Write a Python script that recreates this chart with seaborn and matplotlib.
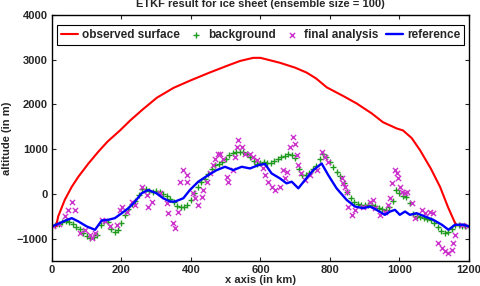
import numpy as np
import pandas as pd
import matplotlib
matplotlib.use('Agg')
import matplotlib.pyplot as plt
import seaborn as sns

# observed surface (red)
obs_x = [12, 18, 37, 57, 76, 105, 133, 160, 196, 225, 260, 302, 350, 397, 450, 503, 541,
         579, 600, 656, 700, 733, 760, 791, 840, 877, 920, 953, 993, 1010, 1035, 1059,
         1090, 1117, 1140, 1160, 1165]
obs_y = [-720, -500, -130, 160, 385, 680, 940, 1170, 1420, 1640, 1880, 2150, 2370, 2530,
         2700, 2860, 2970, 3040, 3040, 2930, 2820, 2710, 2580, 2380, 2180, 2020, 1800, 1600,
         1460, 1420, 1250, 980, 570, 155, -300, -650, -700]

# background (green +), every 10 km
bg_x = list(range(0, 1201, 10))
bg_y = [-725, -700, -670, -630, -610, -620, -680, -740, -790, -880,
        -940, -980, -970, -920, -700, -610, -630, -780, -860, -800,
        -650, -470, -330, -230, -160, -30, 110, 110, 70, 50,
        60, 40, 0, -40, -110, -190, -260, -290, -285, -240,
        -140, 20, 160, 260, 340, 450, 560, 650, 660, 720,
        780, 860, 920, 940, 945, 940, 900, 830, 730, 670,
        690, 710, 700, 690, 730, 790, 820, 850, 900, 880,
        800, 560, 420, 430, 460, 550, 620, 780, 900, 820,
        720, 610, 500, 410, 240, 50, -100, -180, -220, -240,
        -245, -245, -245, -280, -310, -330, -350, -300, -150, 90,
        20, -40, -60, -200, -440, -500, -520, -540, -560, -575,
        -650, -740, -830, -870, -850, -790, -700, -690, -710, -720,
        -725]

# final analysis (magenta x)
fa_x = [4, 20, 37, 47, 57, 66, 81, 95, 109, 114, 124, 143, 153, 167, 186, 196, 201, 215,
        229, 239, 258, 273, 277, 287, 311, 330, 335, 349, 354, 364, 368, 378, 388, 388,
        407, 412, 421, 431, 435, 445, 455, 464, 469, 479, 483, 493, 503, 507, 522, 527,
        532, 536, 546, 555, 570, 579, 589, 608, 613, 623, 632, 642, 656, 666, 671, 675,
        685, 694, 699, 704, 709, 718, 728, 743, 762, 776, 786, 795, 834, 838, 843, 848,
        853, 863, 872, 896, 915, 925, 930, 944, 958, 968, 973, 978, 987, 992, 997, 1001,
        1006, 1016, 1021, 1035, 1045, 1064, 1073, 1088, 1097, 1112, 1122, 1131, 1141,
        1150, 1155, 1160, 1179, 1198]
fa_y = [-725, -680, -503, -355, -170, -355, -873, -799, -910, -984, -873, -577, -614, -725,
        -688, -355, -281, -392, -170, -244, 163, -22, -281, -170, 15, -207, -429, -651,
        -762, -392, 274, 533, 422, 274, 15, -96, -244, -59, 89, 274, 459, 644, 792, 903,
        903, 792, 385, 274, 533, 829, 1051, 1199, 1051, 903, 903, 829, 755, 570, 422, 274,
        163, 89, 163, 533, 348, 496, 1051, 1273, 1125, 866, 644, 459, 311, 422, 533, 940,
        829, 718, 348, 237, 163, 52, -281, -466, -355, -281, -170, -133, -318, -466, -392,
        -244, -96, 237, 533, 459, 348, 163, 52, 15, 52, -207, -540, -355, -429, -392, -429,
        -1096, -1207, -1281, -1318, -1244, -1096, -910, -688, -725]

# reference (blue)
ref_x = [0, 23, 40, 57, 76, 100, 124, 143, 162, 181, 201, 220, 239, 258, 277, 301, 320,
         340, 354, 378, 397, 421, 450, 474, 498, 522, 546, 570, 594, 613, 632, 656, 675,
         690, 709, 728, 752, 776, 795, 819, 848, 872, 896, 915, 934, 958, 973, 987, 1001,
         1016, 1030, 1049, 1073, 1097, 1122, 1141, 1160, 1184, 1200]
ref_y = [-725, -650, -590, -540, -614, -725, -800, -593, -577, -540, -429, -318, -170, 15,
         89, 15, -96, -170, -170, -96, 89, 274, 422, 533, 607, 533, 607, 570, 644, 670, 459,
         348, 237, 274, 126, 311, 533, 681, 422, 126, -133, -281, -318, -281, -355, -466,
         -392, -355, -466, -392, -466, -429, -503, -577, -688, -799, -688, -688, -725]

sns.set_style('ticks')
plt.rcParams['font.family'] = ['Liberation Sans', 'DejaVu Sans']
plt.rcParams['font.weight'] = 'bold'
plt.rcParams['axes.labelweight'] = 'bold'

fig = plt.figure(figsize=(4.81, 2.86), dpi=100)
ax = fig.add_axes([0.108, 0.087, 0.867, 0.861])

sns.lineplot(x=obs_x, y=obs_y, color='#ff0000', linewidth=1.5, label='observed surface', ax=ax)
sns.scatterplot(x=bg_x, y=bg_y, marker='+', color='#1f9a1f', s=13, linewidth=1.0,
                label='background', ax=ax)
sns.scatterplot(x=fa_x, y=fa_y, marker='x', color='#cc33cc', s=14, linewidth=1.0,
                label='final analysis', ax=ax)
sns.lineplot(x=ref_x, y=ref_y, color='#0000ff', linewidth=1.7, label='reference', ax=ax)

ax.set_xlim(0, 1200)
ax.set_ylim(-1500, 4000)
ax.set_xticks(range(0, 1201, 200))
ax.set_yticks(range(-1000, 4001, 1000))
ax.tick_params(direction='in', top=True, right=True, labelsize=8, length=3, width=0.8, pad=3)
for lab in ax.get_xticklabels() + ax.get_yticklabels():
    lab.set_fontweight('bold')
for sp in ax.spines.values():
    sp.set_linewidth(1.0)
    sp.set_color('black')

ax.set_xlabel('x axis (in km)', fontsize=8, fontweight='bold', labelpad=0)
ax.set_ylabel('altitude (in m)', fontsize=8, fontweight='bold', labelpad=3)
ax.set_title('ETKF result for ice sheet (ensemble size = 100)', fontsize=8,
             fontweight='bold', pad=6)

leg = ax.legend(ncol=4, loc='upper center', bbox_to_anchor=(0.5, 0.975),
                frameon=True, fancybox=False, edgecolor='black', framealpha=1,
                handlelength=1.5, handletextpad=0.3, columnspacing=0.6,
                borderpad=0.35, borderaxespad=0.3, prop={'weight': 'bold', 'size': 8.5})
leg.get_frame().set_linewidth(0.8)

fig.savefig('out.png', dpi=100)
